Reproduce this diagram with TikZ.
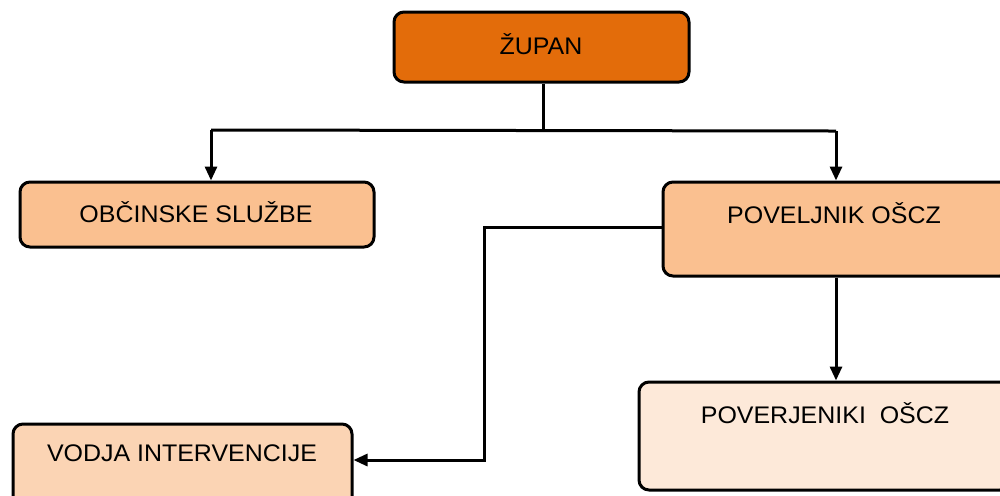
\documentclass[tikz,border=0pt]{standalone}
\usepackage{fontspec}
\setmainfont[FakeStretch=1.04]{Liberation Sans}
\usetikzlibrary{arrows.meta}
\definecolor{cTop}{HTML}{E36C0A}
\definecolor{cMid}{HTML}{FAC090}
\definecolor{cLow}{HTML}{FBD4B4}
\definecolor{cPale}{HTML}{FDE9D9}
\begin{document}
\begin{tikzpicture}[x=0.5pt,y=-0.5pt,
  box/.style={draw=black, line width=1.5pt, rounded corners=5pt, inner sep=0pt},
  lbl/.style={font=\fontsize{12}{14}\selectfont, inner sep=0pt, text=black},
  conn/.style={line width=1.5pt},
  arr/.style={conn, -{Triangle[length=7pt,width=6pt]}}]
\clip (0,0) rectangle (1000,495);
\fill[white] (0,0) rectangle (1000,495);
% boxes
\node[box, fill=cTop, minimum width=147.5pt, minimum height=35pt] (zupan) at (541.5,47) {};
\node[box, fill=cMid, minimum width=177pt, minimum height=32.5pt] (obc) at (197,214.5) {};
\node[box, fill=cMid, minimum width=173.5pt, minimum height=47pt] (pov) at (836.5,229) {};
\node[box, fill=cLow, minimum width=169.5pt, minimum height=43pt] (vodja) at (182.5,467) {};
\node[box, fill=cPale, minimum width=185.5pt, minimum height=54pt] (poverj) at (824.5,436) {};
% labels
\node[lbl] (tzupan) at (541,44) {ŽUPAN};
\node[lbl] (tobc) at (196,212) {OBČINSKE SLUŽBE};
\node[lbl] (tpov) at (834,213) {POVELJNIK OŠCZ};
\node[lbl] (tvodja) at (182,453) {VODJA INTERVENCIJE};
\node[lbl] (tpoverj) at (825,413) {POVERJENIKI\ \ OŠCZ};
% connectors
\coordinate (jl) at (211,130);
\coordinate (jr) at (836,131);
\coordinate (jm) at (543,130);
\coordinate (bend) at (484,227);
\coordinate (bendb) at (484,460);
\draw[conn] (jm |- zupan.south) -- (jm);
\draw[conn] (jl) -- (jr);
\draw[arr] (jl) -- (jl |- obc.north);
\draw[arr] (jr) -- (jr |- pov.north);
\draw[arr] (pov.west |- bend) -- (bend) -- (bendb) -- (vodja.east |- bendb);
\draw[arr] (jr |- pov.south) -- (jr |- poverj.north);
\end{tikzpicture}
\end{document}
